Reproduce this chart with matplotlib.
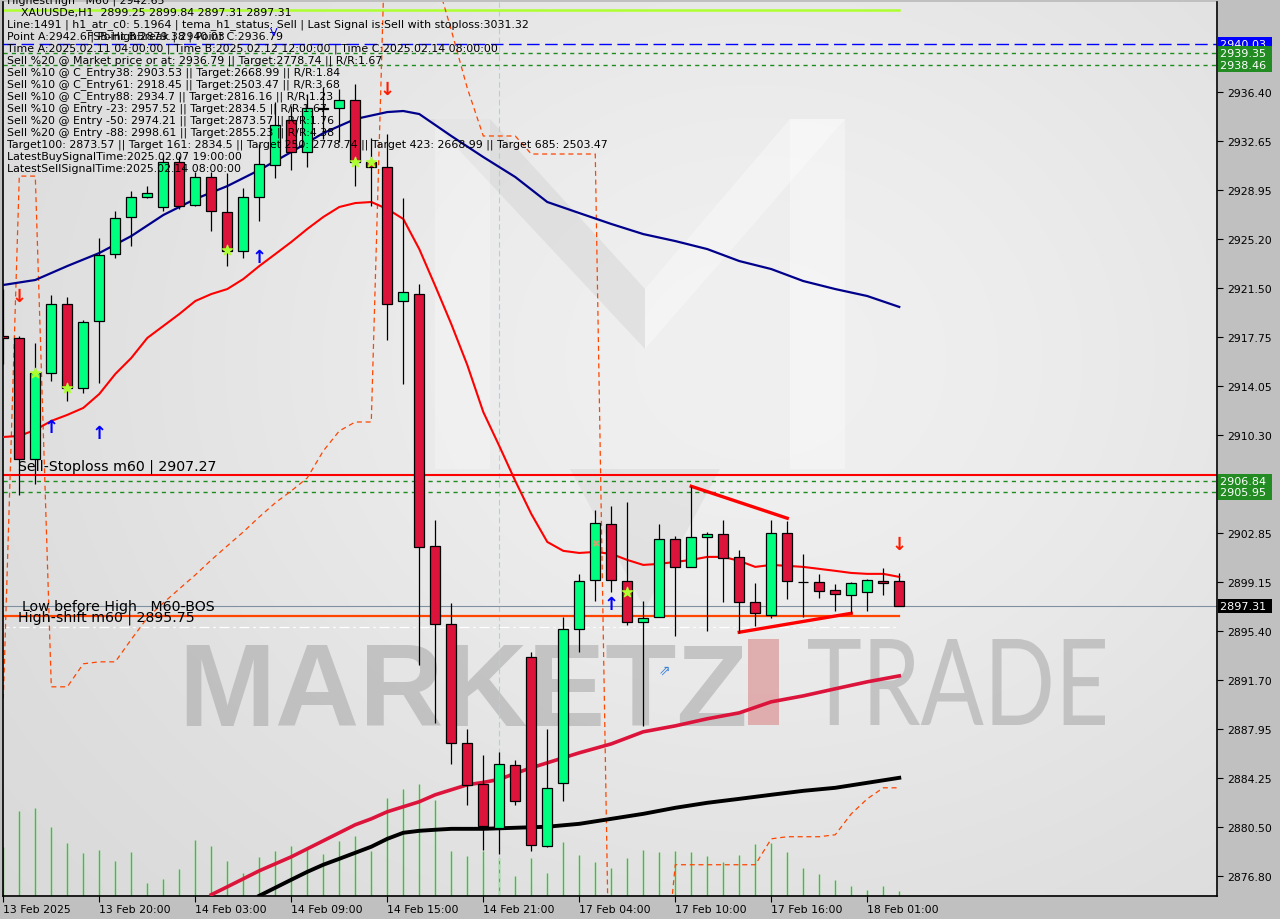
import numpy as np
import matplotlib
matplotlib.use("Agg")
import matplotlib.pyplot as plt
import matplotlib.transforms as mtransforms
from matplotlib.patches import Rectangle, Polygon, PathPatch
from matplotlib.textpath import TextPath
from matplotlib.font_manager import FontProperties

# XAUUSDe H1 candles, bar 0 = 13 Feb 14:00
opens = [2917.85, 2917.70, 2908.50, 2915.04, 2920.28, 2913.90, 2918.99, 2924.08, 2926.90, 2928.42,
         2927.66, 2931.08, 2927.81, 2929.94, 2927.28, 2924.31, 2928.42, 2930.85, 2934.27, 2931.84,
         2935.18, 2935.18, 2935.79, 2931.08, 2930.70, 2920.51, 2921.04, 2901.89, 2895.96, 2886.91,
         2883.79, 2880.45, 2885.24, 2893.45, 2879.08, 2883.87, 2895.58, 2899.30, 2903.56, 2899.23,
         2896.11, 2896.49, 2902.42, 2900.29, 2902.57, 2902.80, 2901.05, 2897.63, 2896.64, 2902.87,
         2899.15, 2899.15, 2898.54, 2898.16, 2898.39, 2899.23, 2899.23]
highs = [2921.42, 2917.85, 2917.32, 2920.97, 2920.82, 2919.07, 2925.30, 2927.35, 2928.87, 2929.25,
         2931.61, 2931.53, 2930.32, 2930.32, 2930.24, 2929.10, 2932.45, 2935.64, 2935.34, 2936.25,
         2936.78, 2936.63, 2937.01, 2932.90, 2933.21, 2928.34, 2921.80, 2903.86, 2897.55, 2887.98,
         2886.00, 2886.23, 2885.63, 2893.83, 2887.98, 2896.49, 2899.76, 2904.62, 2904.93, 2905.23,
         2897.71, 2903.56, 2902.65, 2906.45, 2902.95, 2903.86, 2901.58, 2899.07, 2903.86, 2903.79,
         2901.28, 2899.76, 2899.00, 2899.15, 2899.38, 2900.21, 2899.83]
lows = [2915.72, 2905.76, 2906.60, 2914.43, 2912.91, 2913.52, 2914.28, 2923.78, 2924.69, 2928.35,
        2927.35, 2927.51, 2927.73, 2925.83, 2923.17, 2923.78, 2926.59, 2929.86, 2930.47, 2930.70,
        2932.83, 2932.60, 2929.25, 2927.73, 2917.55, 2914.20, 2892.84, 2888.43, 2885.31, 2882.20,
        2878.78, 2878.47, 2882.20, 2878.70, 2879.01, 2882.50, 2893.83, 2897.71, 2898.39, 2895.88,
        2888.20, 2896.49, 2895.05, 2900.29, 2895.43, 2897.63, 2895.27, 2895.81, 2896.41, 2897.86,
        2896.49, 2897.93, 2896.95, 2896.79, 2896.95, 2898.16, 2897.31]
closes = [2917.70, 2908.50, 2915.04, 2920.28, 2913.90, 2918.92, 2924.01, 2926.82, 2928.42, 2928.72,
          2931.08, 2927.73, 2929.94, 2927.35, 2924.31, 2928.42, 2930.93, 2933.89, 2931.84, 2935.18,
          2935.11, 2935.79, 2931.08, 2930.70, 2920.28, 2921.20, 2901.81, 2895.96, 2886.91, 2883.72,
          2880.60, 2885.31, 2882.50, 2879.16, 2883.49, 2895.58, 2899.23, 2903.64, 2899.30, 2896.11,
          2896.41, 2902.42, 2900.29, 2902.57, 2902.80, 2900.97, 2897.63, 2896.79, 2902.87, 2899.23,
          2899.15, 2898.47, 2898.24, 2899.07, 2899.30, 2899.07, 2897.31]
volumes = [2940, 5100, 5280, 4140, 3180, 2580, 2760, 2100, 2640, 780,
           1020, 1620, 3360, 3000, 2100, 1380, 2340, 2700, 3000, 2880,
           2520, 3300, 3600, 2700, 5880, 6420, 6720, 5760, 2700, 2400,
           2700, 2280, 1200, 2280, 1380, 3240, 2460, 2040, 1680, 2280,
           2760, 2640, 2700, 2640, 2400, 2040, 2460, 3120, 3180, 2640,
           1680, 1320, 960, 600, 360, 600, 300]

# moving averages
blue_x = [0, 2, 4, 6, 8, 10, 12, 14, 16, 18, 20, 22, 24, 25, 26, 28, 30, 32, 34, 36, 38, 40, 42, 44, 46, 48, 50, 52, 54, 56]
blue_y = [2921.73, 2922.11, 2923.17, 2924.16, 2925.45, 2927.05, 2928.27, 2929.25, 2930.47, 2931.84,
          2933.28, 2934.35, 2934.88, 2934.96, 2934.73, 2933.06, 2931.46, 2929.94, 2928.04, 2927.20,
          2926.37, 2925.60, 2925.07, 2924.46, 2923.55, 2922.94, 2922.03, 2921.42, 2920.89, 2920.06]
red_ma = [2910.17, 2910.25, 2910.71, 2911.39, 2911.85, 2912.38, 2913.44, 2914.96, 2916.18, 2917.70,
          2918.61, 2919.52, 2920.51, 2921.04, 2921.42, 2922.18, 2923.17, 2924.08, 2925.00, 2925.99,
          2926.90, 2927.66, 2927.96, 2928.04, 2927.51, 2926.75, 2924.46, 2921.65, 2918.76, 2915.65,
          2912.07, 2909.49, 2906.83, 2904.32, 2902.19, 2901.51, 2901.35, 2901.43, 2901.28, 2900.82,
          2900.44, 2900.52, 2900.67, 2900.82, 2901.05, 2901.05, 2900.75, 2900.29, 2900.44, 2900.37,
          2900.29, 2900.14, 2899.99, 2899.83, 2899.76, 2899.76, 2899.53]
crim_x = [13, 14, 15, 16, 17, 18, 19, 20, 21, 22, 23, 24, 25, 26, 27, 28, 29, 30, 31, 32, 33, 34, 35, 36,
          38, 40, 42, 44, 46, 48, 50, 52, 54, 56]
crim_y = [2875.36, 2875.96, 2876.57, 2877.18, 2877.71, 2878.24, 2878.85, 2879.46, 2880.07, 2880.68,
          2881.13, 2881.67, 2882.05, 2882.43, 2882.96, 2883.34, 2883.72, 2883.90, 2884.13, 2884.59,
          2885.01, 2885.39, 2885.77, 2886.15, 2886.83, 2887.75, 2888.20, 2888.74, 2889.19, 2890.03,
          2890.48, 2891.02, 2891.55, 2892.00]
blk_x = [16, 17, 18, 19, 20, 21, 22, 23, 24, 25, 26, 27, 28, 30, 32, 34, 36, 38, 40, 42, 44, 46, 48, 50, 52, 54, 56]
blk_y = [2875.28, 2875.89, 2876.50, 2877.10, 2877.64, 2878.09, 2878.55, 2879.01, 2879.61, 2880.07,
         2880.22, 2880.30, 2880.37, 2880.37, 2880.45, 2880.53, 2880.75, 2881.13, 2881.51, 2881.97,
         2882.35, 2882.65, 2882.96, 2883.26, 2883.49, 2883.87, 2884.25]
# stop band (orange dashed)
band = [2890.26, 2930.01, 2930.01, 2891.17, 2891.17, 2892.92, 2893.07, 2893.07, 2894.78, 2896.41,
        2897.55, 2898.62, 2899.68, 2900.82, 2901.89, 2902.95, 2904.09, 2905.16, 2906.07, 2907.06,
        2909.11, 2910.63, 2911.31, 2911.31, 2953.90, 2951.00, 2948.00, 2945.30, 2941.11, 2936.70,
        2933.06, 2933.06, 2933.06, 2931.69, 2931.69, 2931.69, 2931.69, 2931.69, 2858.70, 2860.50,
        2862.50, 2865.10, 2877.64, 2877.64, 2877.64, 2877.64, 2877.64, 2877.64, 2879.61, 2879.77,
        2879.77, 2879.77, 2879.92, 2881.51, 2882.65, 2883.49, 2883.49]

# signals
buy_bars = [3, 6, 16, 38]
buy_px = [2910.91, 2910.46, 2923.85, 2897.45]
sell_bars = [1, 24, 56]
sell_px = [2920.88, 2936.63, 2902.01]
star_bars = [2, 4, 14, 22, 23, 39]
star_px = [2915.02, 2913.88, 2924.38, 2931.07, 2931.07, 2898.36]

# triangle trendlines
tri_up_x, tri_up_y = [43, 49], [2906.42, 2903.99]
tri_lo_x, tri_lo_y = [46, 53], [2895.32, 2896.76]

# levels
highest_high = 2942.65
fsb_high = 2940.03
green_levels = [2939.35, 2938.46, 2906.84, 2905.95]
stop_level = 2907.27
bid = 2897.31
bos_level = 2896.55
shift_level = 2895.75

yticks = [2936.40, 2932.65, 2928.95, 2925.20, 2921.50, 2917.75, 2914.05, 2910.30,
          2902.85, 2899.15, 2895.40, 2891.70, 2887.95, 2884.25, 2880.50, 2876.80]
xtick_bars = [0, 6, 12, 18, 24, 30, 36, 42, 48, 54]
xtick_labels = ["13 Feb 2025", "13 Feb 20:00", "14 Feb 03:00", "14 Feb 09:00", "14 Feb 15:00",
                "14 Feb 21:00", "17 Feb 04:00", "17 Feb 10:00", "17 Feb 16:00", "18 Feb 01:00"]

info_lines = [
    "HighestHigh   M60 | 2942.65",
    "    XAUUSDe,H1  2899.25 2899.84 2897.31 2897.31",
    "Line:1491 | h1_atr_c0: 5.1964 | tema_h1_status: Sell | Last Signal is:Sell with stoploss:3031.32",
    "Point A:2942.6 | Point B:2879.38 | Point C:2936.79",
    "Time A:2025.02.11 04:00:00 | Time B:2025.02.12 12:00:00 | Time C:2025.02.14 08:00:00",
    "Sell %20 @ Market price or at: 2936.79 || Target:2778.74 || R/R:1.67",
    "Sell %10 @ C_Entry38: 2903.53 || Target:2668.99 || R/R:1.84",
    "Sell %10 @ C_Entry61: 2918.45 || Target:2503.47 || R/R:3.68",
    "Sell %10 @ C_Entry88: 2934.7 || Target:2816.16 || R/R:1.23",
    "Sell %10 @ Entry -23: 2957.52 || Target:2834.5 || R/R:1.67",
    "Sell %20 @ Entry -50: 2974.21 || Target:2873.57 || R/R:1.76",
    "Sell %20 @ Entry -88: 2998.61 || Target:2855.23 || R/R:4.38",
    "Target100: 2873.57 || Target 161: 2834.5 || Target 250: 2778.74 || Target 423: 2668.99 || Target 685: 2503.47",
    "LatestBuySignalTime:2025.02.07 19:00:00",
    "LatestSellSignalTime:2025.02.14 08:00:00",
]

W, H = 1280, 920
fig = plt.figure(figsize=(W / 100, H / 100), dpi=100, facecolor="#c0c0c0")
L, R, T, B = 2.5, 1217, 3, 896.5
ax = fig.add_axes([L / W, 1 - B / H, (R - L) / W, (B - T) / H])


def fp(x, y):
    return x / W, 1 - y / H


def ap(x, y):
    return (x - L) / (R - L), (B - y) / (B - T)


def word_path(word, prop, x0, y0, x1, y1):
    # text outline stretched into a pixel box (top-left origin)
    tp = TextPath((0, 0), word, size=100, prop=prop)
    bb = tp.get_extents()
    tf = (mtransforms.Affine2D().translate(-bb.x0, -bb.y0)
          .scale((x1 - x0) / bb.width, (y1 - y0) / bb.height).translate(x0, H - y1))
    return tp, tf


n = len(opens)
idx = np.arange(n)
o, h, l, c = map(np.array, (opens, highs, lows, closes))

# background gradient (on the volume axis, which sits underneath)
gy, gx = np.mgrid[0:1:200j, 0:1:300j]
d2 = ((gx - 0.62) / 0.7) ** 2 + ((gy - 0.6) / 0.8) ** 2
bg = 0.835 + 0.105 * np.exp(-d2 * 1.3)
bg_rgb = np.dstack([bg, bg, bg])

axv = ax.twinx()
axv.imshow(bg_rgb, extent=[0, 1, 0, 1], transform=axv.transAxes, interpolation="bilinear",
           aspect="auto", origin="lower", zorder=0)

# faint logo
for pts, col, al in [
    ([(430, 120), (490, 120), (645, 290), (645, 350)], "#c4c4c4", 0.3),
    ([(645, 290), (790, 120), (845, 120), (645, 350)], "white", 0.35),
    ([(435, 120), (490, 120), (490, 470), (435, 470)], "white", 0.25),
    ([(790, 120), (845, 120), (845, 470), (790, 470)], "white", 0.35),
    ([(570, 470), (720, 470), (645, 610)], "#c4c4c4", 0.25),
]:
    axv.add_patch(Polygon([ap(*p) for p in pts], closed=True, transform=axv.transAxes,
                          fc=col, ec="none", alpha=al, zorder=0.5))

# watermark
axv.text(*ap(178, 726), "MARKETZ", transform=axv.transAxes, fontsize=84, fontweight="bold",
         family="Liberation Sans", color="#a0a0a0", alpha=0.5, ha="left", va="baseline", zorder=0.6)
axv.add_patch(Rectangle(ap(748, 726), 31 / (R - L), 86 / (B - T), transform=axv.transAxes,
                        fc="#dc9a9a", ec="none", alpha=0.75, zorder=0.6))
tp, tf = word_path("TRADE", FontProperties(family="Lato", weight="normal"), 808, 640, 1105, 726)
axv.add_artist(PathPatch(tp, transform=tf, fc="#a0a0a0", ec="none", alpha=0.5, zorder=0.6))

# volumes
axv.vlines(idx, 0, volumes, color="#32c832", lw=1.0, zorder=1)
axv.set_ylim(0, 894 * 60)
axv.set_xlim(-0.05, 75.86)
axv.set_yticks([])
for s in axv.spines.values():
    s.set_visible(False)
ax.set_zorder(axv.get_zorder() + 1)
ax.patch.set_visible(False)

# horizontal levels
ax.axhline(fsb_high, color="#0000ff", lw=1, ls=(0, (9, 4)), zorder=2)
for lv in green_levels:
    ax.axhline(lv, color="#1e8c1e", lw=1, ls=(0, (3, 3)), zorder=2)
ax.axhline(stop_level, color="#ff0000", lw=1.5, zorder=2)
ax.axhline(bid, color="#8090a0", lw=0.8, zorder=2)
ax.plot([-1, n - 1], [highest_high] * 2, color="#adff2f", lw=1.8, zorder=2)
ax.plot([-1, n - 1], [bos_level] * 2, color="#ff4500", lw=1.6, zorder=2)
ax.plot([-1, n - 1], [shift_level] * 2, color="white", lw=0.9, ls=(0, (8, 3, 2, 3)), zorder=2)
ax.axvline(31, color="#a8d4dc", lw=0.8, ls=(0, (5, 3)), zorder=1.5)

# indicator lines
ax.plot(idx, band, color="#ff4500", lw=0.9, ls=(0, (4, 3)), zorder=2)
ax.plot(blue_x, blue_y, color="#00008b", lw=1.6, zorder=3)
ax.plot(idx, red_ma, color="#ff0000", lw=1.5, zorder=3)
ax.plot(crim_x, crim_y, color="#dc143c", lw=2.6, zorder=3)
ax.plot(blk_x, blk_y, color="#000000", lw=2.8, zorder=3)
ax.plot(tri_up_x, tri_up_y, color="#ff0000", lw=2.4, zorder=3)
ax.plot(tri_lo_x, tri_lo_y, color="#ff0000", lw=2.4, zorder=3)

# candles
ax.vlines(idx, l, h, color="black", lw=0.9, zorder=4)
up = c > o
body_lo = np.minimum(o, c)
body_h = np.abs(c - o)
ax.bar(idx, body_h, bottom=body_lo, width=0.62, color=np.where(up, "#00ff7f", "#dc143c"),
       edgecolor="black", linewidth=0.9, zorder=5)

# signals
for b, p in zip(buy_bars, buy_px):
    ax.text(b, p, "\u2191", color="#0000ff", fontsize=13, fontweight="bold", ha="center",
            va="center", zorder=6)
for b, p in zip(sell_bars, sell_px):
    ax.text(b, p, "\u2193", color="#ff1a00", fontsize=13, fontweight="bold", ha="center",
            va="center", zorder=6)
ax.scatter(star_bars, star_px, marker="*", s=55, color="#adff2f", zorder=6)
ax.text(37, 2902.09, "\u2716", color="#d8a070", fontsize=7, ha="center", va="center", zorder=6)
ax.text(41.3, 2892.50, "\u21d7", color="#3a80d8", fontsize=10, ha="center", va="center", zorder=6)

ax.set_xlim(-0.05, 75.86)
ax.set_ylim(2875.30, 2943.25)

# axes styling
ax.yaxis.tick_right()
ax.set_yticks(yticks)
ax.set_yticklabels([f"{v:.2f}" for v in yticks])
ax.tick_params(axis="y", direction="out", length=4, width=0.8, labelsize=7.8, pad=3)
ax.set_xticks(xtick_bars)
ax.set_xticklabels(xtick_labels, ha="left")
ax.tick_params(axis="x", direction="out", length=4, width=0.8, labelsize=7.8, pad=2)
for side in ("left", "right", "bottom"):
    ax.spines[side].set_linewidth(1.2)
ax.spines["top"].set_visible(False)

# level labels on the chart
lab = dict(fontsize=10.2, color="black", ha="left", va="baseline", zorder=7, family="DejaVu Sans")
ax.text(*ap(18, 471), "Sell-Stoploss m60 | 2907.27", transform=ax.transAxes, **lab)
ax.text(*ap(22, 611), "Low before High   M60-BOS", transform=ax.transAxes, **lab)
ax.text(*ap(18, 622), "High-shift m60 | 2895.75", transform=ax.transAxes, **lab)

# price boxes on the right scale
tr = mtransforms.blended_transform_factory(ax.transAxes, ax.transData)
boxes = [(fsb_high, "#0000ff"), (green_levels[0], "#228b22"), (green_levels[1], "#228b22"),
         (green_levels[2], "#228b22"), (green_levels[3], "#228b22"), (bid, "#000000")]
for v, col in boxes:
    ax.text(1.0025, v, f"{v:.2f} ", transform=tr, fontsize=8.0, color="white", ha="left",
            va="center", zorder=8, clip_on=False,
            bbox=dict(boxstyle="square,pad=0.2", fc=col, ec="none"))

# info block top left
for k, s in enumerate(info_lines):
    fig.text(*fp(7, 1 + 12 * k), s, fontsize=7.9, color="black", ha="left", va="center",
             family="DejaVu Sans", zorder=10)
fig.text(*fp(87, 37), "FSB-HighBreak | 2940.03", fontsize=7.9, color="black", ha="left",
         va="center", zorder=10)
fig.text(*fp(270, 33), "V", fontsize=8, color="#0000ff", ha="left", va="center", zorder=10)

fig.savefig("out.png", dpi=100, facecolor=fig.get_facecolor())
